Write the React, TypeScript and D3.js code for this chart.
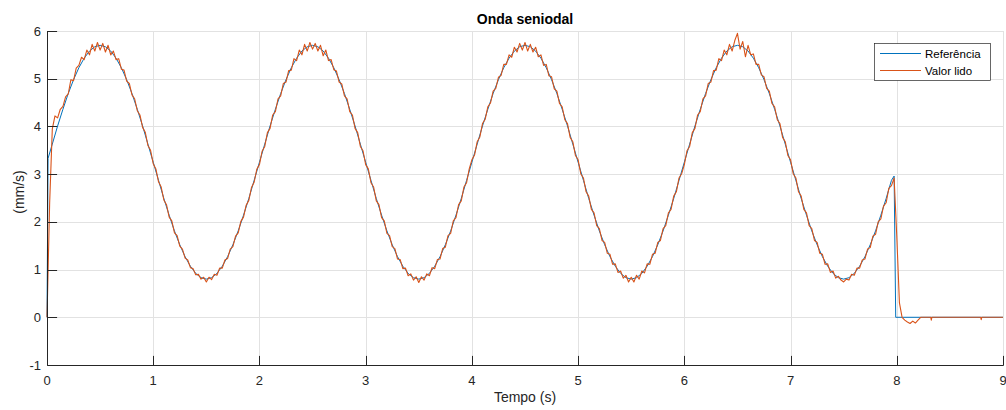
import React, { useEffect, useRef } from 'react';
import * as d3 from 'd3';

// eixo / rótulos
const xTicks = [0, 1, 2, 3, 4, 5, 6, 7, 8, 9];
const yTicks = [-1, 0, 1, 2, 3, 4, 5, 6];
const chartTitle = 'Onda seniodal';
const xLabel = 'Tempo (s)';
const yLabel = '(mm/s)';
const seriesNames = ['Referência', 'Valor lido'];

// Referência: amostras a cada 0.05 s, um ciclo (2 s) por array
const refStep = 0.05;
const refCycle1 = [0, 3.63, 4.01, 4.36, 4.69, 4.98, 5.23, 5.43, 5.58, 5.67,
  5.70, 5.67, 5.58, 5.43, 5.23, 4.98, 4.69, 4.36, 4.01, 3.63,
  3.25, 2.87, 2.49, 2.14, 1.81, 1.52, 1.27, 1.07, 0.92, 0.83,
  0.80, 0.83, 0.92, 1.07, 1.27, 1.52, 1.81, 2.14, 2.49, 2.87];
const refCycle2 = [3.25, 3.63, 4.01, 4.36, 4.69, 4.98, 5.23, 5.43, 5.58, 5.67,
  5.70, 5.67, 5.58, 5.43, 5.23, 4.98, 4.69, 4.36, 4.01, 3.63,
  3.25, 2.87, 2.49, 2.14, 1.81, 1.52, 1.27, 1.07, 0.92, 0.83,
  0.80, 0.83, 0.92, 1.07, 1.27, 1.52, 1.81, 2.14, 2.49, 2.87];
const refCycle3 = [3.25, 3.63, 4.01, 4.36, 4.69, 4.98, 5.23, 5.43, 5.58, 5.67,
  5.70, 5.67, 5.58, 5.43, 5.23, 4.98, 4.69, 4.36, 4.01, 3.63,
  3.25, 2.87, 2.49, 2.14, 1.81, 1.52, 1.27, 1.07, 0.92, 0.83,
  0.80, 0.83, 0.92, 1.07, 1.27, 1.52, 1.81, 2.14, 2.49, 2.87];
const refCycle4 = [3.25, 3.63, 4.01, 4.36, 4.69, 4.98, 5.23, 5.43, 5.58, 5.67,
  5.70, 5.67, 5.58, 5.43, 5.23, 4.98, 4.69, 4.36, 4.01, 3.63,
  3.25, 2.87, 2.49, 2.14, 1.81, 1.52, 1.27, 1.07, 0.92, 0.83,
  0.80, 0.83, 0.92, 1.07, 1.27, 1.52, 1.81, 2.14, 2.49, 2.87];
// pontos fora da grade regular (subida inicial e corte em t=8)
const refExtraTimes = [0.01, 7.975, 7.99, 9];
const refExtraValues = [3.33, 2.96, 0, 0];

// Valor lido: amostras a cada 0.025 s
const measStep = 0.025;
const measCycle1 = [0, 2.4, 3.95, 4.22, 4.18, 4.36, 4.42, 4.62, 4.68, 4.98,
  4.96, 5.22, 5.28, 5.45, 5.4, 5.6, 5.5, 5.72, 5.58, 5.76,
  5.6, 5.74, 5.56, 5.7, 5.5, 5.58, 5.4, 5.42, 5.2, 5.18,
  4.95, 4.9, 4.66, 4.58, 4.33, 4.24, 3.98, 3.88, 3.6, 3.5,
  3.22, 3.11, 2.84, 2.73, 2.46, 2.36, 2.1, 2.02, 1.77, 1.71,
  1.49, 1.43, 1.24, 1.2, 1.04, 1.02, 0.89, 0.9, 0.8, 0.84,
  0.74, 0.84, 0.79, 0.9, 0.88, 1.03, 1.03, 1.2, 1.23, 1.43,
  1.48, 1.7, 1.77, 2.01, 2.1, 2.35, 2.45, 2.72, 2.83, 3.1];
const measCycle2 = [3.2, 3.48, 3.58, 3.87, 3.96, 4.24, 4.31, 4.58, 4.64, 4.9,
  4.93, 5.17, 5.18, 5.42, 5.38, 5.6, 5.5, 5.72, 5.58, 5.76,
  5.62, 5.74, 5.58, 5.7, 5.48, 5.6, 5.38, 5.4, 5.19, 5.16,
  4.93, 4.89, 4.64, 4.58, 4.31, 4.24, 3.96, 3.87, 3.58, 3.49,
  3.2, 3.11, 2.82, 2.73, 2.44, 2.36, 2.09, 2.02, 1.76, 1.71,
  1.48, 1.44, 1.22, 1.21, 1.02, 1.03, 0.87, 0.91, 0.78, 0.85,
  0.73, 0.85, 0.78, 0.91, 0.87, 1.04, 1.02, 1.21, 1.22, 1.44,
  1.47, 1.71, 1.76, 2.02, 2.09, 2.36, 2.44, 2.73, 2.82, 3.11];
const measCycle3 = [3.3, 3.4, 3.68, 3.78, 4.06, 4.15, 4.41, 4.49, 4.74, 4.8,
  5.03, 5.07, 5.3, 5.3, 5.5, 5.45, 5.66, 5.56, 5.74, 5.6,
  5.76, 5.58, 5.72, 5.56, 5.66, 5.46, 5.5, 5.28, 5.3, 5.06,
  5.04, 4.79, 4.74, 4.48, 4.41, 4.14, 4.06, 3.77, 3.68, 3.39,
  3.3, 3.01, 2.92, 2.63, 2.54, 2.26, 2.19, 1.92, 1.86, 1.61,
  1.57, 1.34, 1.32, 1.11, 1.12, 0.94, 0.97, 0.82, 0.88, 0.74,
  0.84, 0.74, 0.88, 0.8, 0.97, 0.93, 1.12, 1.11, 1.32, 1.34,
  1.57, 1.61, 1.86, 1.92, 2.19, 2.26, 2.54, 2.63, 2.92, 3.01];
const measCycle4 = [3.2, 3.49, 3.58, 3.87, 3.96, 4.24, 4.31, 4.58, 4.64, 4.9,
  4.93, 5.17, 5.18, 5.42, 5.38, 5.6, 5.5, 5.72, 5.58, 5.8,
  5.95, 5.62, 5.78, 5.46, 5.7, 5.5, 5.52, 5.3, 5.3, 5.08,
  5.04, 4.8, 4.74, 4.48, 4.41, 4.14, 4.06, 3.77, 3.68, 3.39,
  3.3, 3.01, 2.92, 2.63, 2.54, 2.26, 2.19, 1.92, 1.86, 1.61,
  1.57, 1.34, 1.32, 1.11, 1.12, 0.94, 0.97, 0.82, 0.86, 0.78,
  0.74, 0.8, 0.78, 0.9, 0.88, 1.03, 1.03, 1.2, 1.22, 1.43,
  1.46, 1.7, 1.74, 2.0, 2.06, 2.33, 2.4, 2.7, 2.76, 2.92];
// depois do corte em t=8
const measTailTimes = [8.0, 8.025, 8.05, 8.075, 8.1, 8.125, 8.15, 8.175, 8.2, 8.225, 8.32, 8.325, 8.33, 8.79, 8.795, 8.8, 9.0];
const measTailValues = [1.7, 0.3, 0.0, -0.06, -0.1, -0.13, -0.08, -0.12, -0.06, 0, 0, -0.06, 0, 0, -0.05, 0, 0];

type Pt = { t: number; v: number };

const buildRef = (): Pt[] => {
  const pts: Pt[] = [refCycle1, refCycle2, refCycle3, refCycle4]
    .flat()
    .map((v, i) => ({ t: i * refStep, v }));
  refExtraTimes.forEach((t, i) => pts.push({ t, v: refExtraValues[i] }));
  return pts.sort((a, b) => a.t - b.t);
};

const buildMeas = (): Pt[] => {
  const pts: Pt[] = [measCycle1, measCycle2, measCycle3, measCycle4]
    .flat()
    .map((v, i) => ({ t: i * measStep, v }));
  measTailTimes.forEach((t, i) => pts.push({ t, v: measTailValues[i] }));
  return pts;
};

const W = 1006, H = 410;
const margin = { top: 31, right: 3, bottom: 45, left: 47 };
const FONT = '"Liberation Sans", Arial, Helvetica, sans-serif';
const BLUE = '#0072BD', ORANGE = '#D95319', AXIS = '#262626', GRID = '#e2e2e2';

export default function App() {
  const ref = useRef<SVGSVGElement>(null);

  useEffect(() => {
    const svg = d3.select(ref.current);
    svg.selectAll('*').remove();

    const x = d3.scaleLinear().domain([0, 9]).range([margin.left, W - margin.right]);
    const y = d3.scaleLinear().domain([-1, 6]).range([H - margin.bottom, margin.top]);
    const px = (v: number) => Math.round(v) + 0.5;
    const tickLen = 9.6;

    svg.append('rect').attr('width', W).attr('height', H).attr('fill', '#fff');

    // grade
    const grid = svg.append('g').attr('stroke', GRID).attr('stroke-width', 1);
    grid.selectAll('line.gx').data(xTicks.filter(d => d > 0)).enter().append('line')
      .attr('x1', d => px(x(d))).attr('x2', d => px(x(d)))
      .attr('y1', y(-1)).attr('y2', y(6));
    grid.selectAll('line.gy').data(yTicks.filter(d => d > -1)).enter().append('line')
      .attr('x1', x(0)).attr('x2', x(9))
      .attr('y1', d => px(y(d))).attr('y2', d => px(y(d)));

    // linhas
    const line = d3.line<Pt>().x(d => x(d.t)).y(d => y(d.v));
    svg.append('path').datum(buildRef())
      .attr('fill', 'none').attr('stroke', BLUE).attr('stroke-width', 1)
      .attr('stroke-linejoin', 'round').attr('d', line);
    svg.append('path').datum(buildMeas())
      .attr('fill', 'none').attr('stroke', ORANGE).attr('stroke-width', 1.1)
      .attr('stroke-linejoin', 'round').attr('d', line);

    // eixos (ticks para dentro, estilo MATLAB)
    const axes = svg.append('g').attr('stroke', AXIS).attr('stroke-width', 1);
    axes.append('line').attr('x1', px(x(0))).attr('x2', px(x(0))).attr('y1', y(6)).attr('y2', px(y(-1)));
    axes.append('line').attr('x1', px(x(0))).attr('x2', x(9) + 0.5).attr('y1', px(y(-1))).attr('y2', px(y(-1)));
    axes.selectAll('line.tx').data(xTicks).enter().append('line')
      .attr('x1', d => px(x(d))).attr('x2', d => px(x(d)))
      .attr('y1', px(y(-1))).attr('y2', px(y(-1)) - tickLen);
    axes.selectAll('line.ty').data(yTicks).enter().append('line')
      .attr('x1', px(x(0))).attr('x2', px(x(0)) + tickLen)
      .attr('y1', d => px(y(d))).attr('y2', d => px(y(d)));

    const labels = svg.append('g').attr('font-family', FONT).attr('fill', AXIS).attr('font-size', 13);
    labels.selectAll('text.lx').data(xTicks).enter().append('text')
      .attr('x', d => x(d)).attr('y', y(-1) + 20)
      .attr('text-anchor', 'middle').text(d => d);
    labels.selectAll('text.ly').data(yTicks).enter().append('text')
      .attr('x', x(0) - 6).attr('y', d => y(d) + 4.5)
      .attr('text-anchor', 'end').text(d => d);

    svg.append('text').attr('x', (x(0) + x(9)) / 2).attr('y', 402)
      .attr('text-anchor', 'middle').attr('font-family', FONT).attr('font-size', 14)
      .attr('fill', AXIS).text(xLabel);
    svg.append('text').attr('transform', `translate(24,192) rotate(-90)`)
      .attr('text-anchor', 'middle').attr('font-family', FONT).attr('font-size', 14)
      .attr('fill', AXIS).text(yLabel);
    svg.append('text').attr('x', (x(0) + x(9)) / 2).attr('y', 24)
      .attr('text-anchor', 'middle').attr('font-family', FONT).attr('font-size', 14)
      .attr('font-weight', 'bold').attr('fill', '#000').text(chartTitle);

    // legenda
    const lg = svg.append('g').attr('transform', 'translate(874,43)');
    lg.append('rect').attr('x', 0.5).attr('y', 0.5).attr('width', 116).attr('height', 37)
      .attr('fill', '#fff').attr('stroke', AXIS).attr('stroke-width', 0.7);
    const item = lg.selectAll('g').data(seriesNames).enter().append('g')
      .attr('transform', (d, i) => `translate(0,${10.5 + i * 17})`);
    item.append('line').attr('x1', 6).attr('x2', 47).attr('y1', 0).attr('y2', 0)
      .attr('stroke', (d, i) => (i === 0 ? BLUE : ORANGE)).attr('stroke-width', 1);
    item.append('text').attr('x', 51).attr('y', 4).attr('font-family', FONT)
      .attr('font-size', 11.5).attr('fill', '#000').text(d => d);
  }, []);

  return (
    <svg ref={ref} width={W} height={H}
      style={{ position: 'absolute', left: 0, top: 0, display: 'block' }} />
  );
}
